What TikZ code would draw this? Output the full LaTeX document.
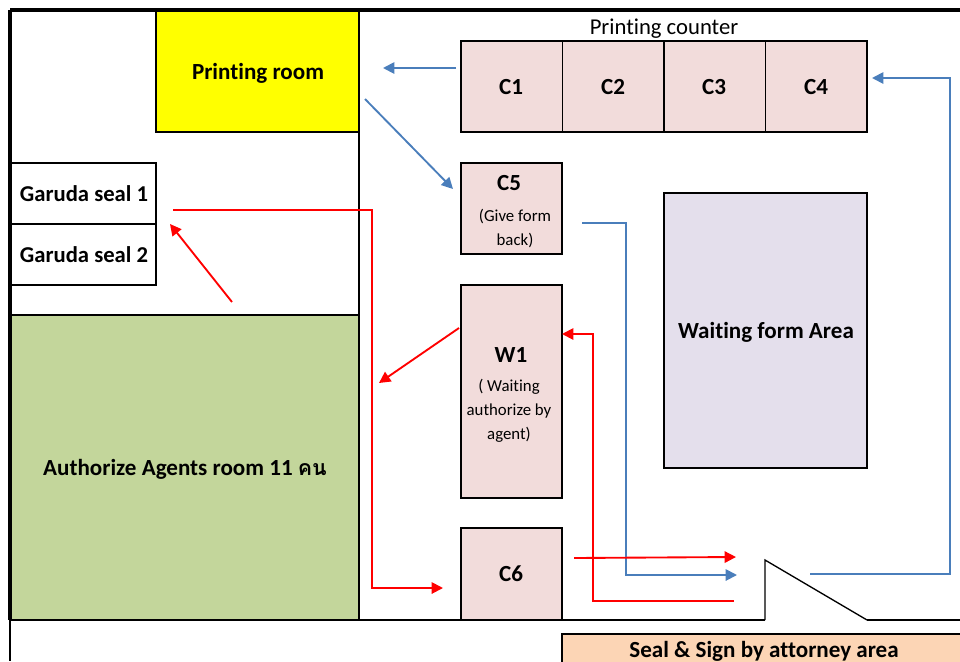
\documentclass[tikz,border=0pt]{standalone}
\usepackage{fontspec}
\setmainfont[Ligatures=NoCommon]{Carlito}
\newfontfamily\thaifont[Script=Thai]{Loma}
\usetikzlibrary{arrows.meta}
\definecolor{pinkbox}{HTML}{F2DCDB}
\definecolor{greenroom}{HTML}{C3D69B}
\definecolor{lilac}{HTML}{E4DFEC}
\definecolor{peach}{HTML}{FCD5B5}
\definecolor{flowblue}{HTML}{4A7EBB}
\definecolor{roomyellow}{HTML}{FFFF00}
\tikzset{
  x=0.75pt,y=-0.75pt,
  room/.style={draw=black,line width=1.5pt,inner sep=0pt,outer sep=0pt,align=center,font=\fontsize{17.3}{20}\selectfont\bfseries},
  counter/.style={room,fill=pinkbox,line width=1.4pt},
  sublabel/.style={font=\fontsize{12.6}{18}\selectfont,align=center,inner sep=0pt},
  wall/.style={draw=black,line width=1.4pt},
  bluearrow/.style={draw=flowblue,line width=1.4pt,-{Triangle[length=8.5pt,width=8.5pt]}},
  redarrow/.style={draw=red,line width=1.4pt,-{Triangle[length=8.5pt,width=8.5pt]}},
}
\newcommand{\boxat}[6][room]{\node[#1,minimum width=#4*0.75pt,minimum height=#5*0.75pt,anchor=north west] (#6) at (#2,#3) {};}
\begin{document}
\begin{tikzpicture}
\useasboundingbox (0,0) rectangle (960,661);
% rooms
\boxat[room,fill=roomyellow]{156}{10}{203}{122}{printing}
\node[room,draw=none] at (258,73) {Printing room};
\boxat[room,fill=greenroom]{11}{315}{348}{305}{agents}
\node[room,draw=none] at (185,469) {Authorize Agents room 11 {\thaifont\fontsize{16}{18}\selectfont คน}};
\boxat[room]{11}{163}{145}{61}{seal1}
\node[room,draw=none,font=\fontsize{17}{20}\selectfont\bfseries] at (84,194) {Garuda seal 1};
\boxat[room]{11}{224}{145}{61}{seal2}
\node[room,draw=none,font=\fontsize{17}{20}\selectfont\bfseries] at (84,255) {Garuda seal 2};
% walls
\coordinate (wallTL) at (10,10);
\coordinate (wallTR) at (960,10);
\coordinate (wallBL) at (10,661);
\coordinate (innerT) at (359,10);
\coordinate (innerB) at (359,620);
\coordinate (floorL) at (10,620);
\coordinate (doorA) at (765,620);
\coordinate (doorB) at (765,560);
\coordinate (doorC) at (867,620);
\coordinate (floorR) at (960,620);
\draw[wall,line width=2.4pt] (wallTR) -- (wallTL);
\draw[wall,line width=2.4pt] (wallTL) -- (10,620);
\draw[wall,line width=1pt] (floorL) -- (wallBL);
\draw[wall] (innerT) -- (innerB);
\draw[wall] (floorL) -- (doorA);
\draw[wall,line width=1pt] (doorA) -- (doorB) -- (doorC);
\draw[wall] (doorC) -- (floorR);
% counters
\node[font=\fontsize{17}{20}\selectfont] (pc) at (664,29) {Printing counter};
\boxat[counter]{461}{41}{101.5}{91}{c1}
\node[room,draw=none] at (511,87) {C1};
\boxat[counter]{562.5}{41}{101.5}{91}{c2}
\node[room,draw=none] at (613,87) {C2};
\boxat[counter]{664}{41}{101.5}{91}{c3}
\node[room,draw=none] at (714,87) {C3};
\boxat[counter]{765.5}{41}{101.5}{91}{c4}
\node[room,draw=none] at (816,87) {C4};
\boxat[counter]{461}{163}{101}{91}{c5}
\node[room,draw=none] at (509,183) {C5};
\node[sublabel] at (515,229) {(Give form\\back)};
\boxat[counter]{461}{285}{101}{213}{w1}
\node[room,draw=none] at (511,355) {W1};
\node[sublabel] at (509,411) {( Waiting\\authorize by\\agent)};
\boxat[counter]{461}{528}{101}{92}{c6}
\node[room,draw=none] at (511,574) {C6};
\boxat[room,line width=1.4pt,fill=peach]{562}{634}{420}{60}{seal}
\node[room,draw=none] at (764,651) {Seal \& Sign by attorney area};
\boxat[room,fill=lilac,line width=1.4pt]{664}{193}{203}{275}{waiting}
\node[room,draw=none] at (766,332) {Waiting form Area};
% blue flow
\coordinate (b1s) at (456,68); \coordinate (b1e) at (383,68);
\draw[bluearrow] (b1s) -- (b1e);
\coordinate (b2s) at (365,99); \coordinate (b2e) at (453,189);
\draw[bluearrow] (b2s) -- (b2e);
\coordinate (b3s) at (582,223); \coordinate (b3e) at (737,575);
\draw[bluearrow] (b3s) -- (626,223) -- (626,575) -- (b3e);
\coordinate (b4s) at (810,574); \coordinate (b4e) at (872,78);
\draw[bluearrow] (b4s) -- (950,574) -- (950,78) -- (b4e);
% red flow
\coordinate (r1s) at (232,302); \coordinate (r1e) at (170,224);
\draw[redarrow] (r1s) -- (r1e);
\coordinate (r2s) at (173,210); \coordinate (r2e) at (443,588);
\draw[redarrow] (r2s) -- (372,210) -- (372,588) -- (r2e);
\coordinate (r3s) at (459,328); \coordinate (r3e) at (379,383);
\draw[redarrow] (r3s) -- (r3e);
\coordinate (r4s) at (574,558); \coordinate (r4e) at (736,557);
\draw[redarrow] (r4s) -- (r4e);
\coordinate (r5s) at (734,601); \coordinate (r5e) at (562,334);
\draw[redarrow] (r5s) -- (593,601) -- (593,334) -- (r5e);
\end{tikzpicture}
\end{document}
